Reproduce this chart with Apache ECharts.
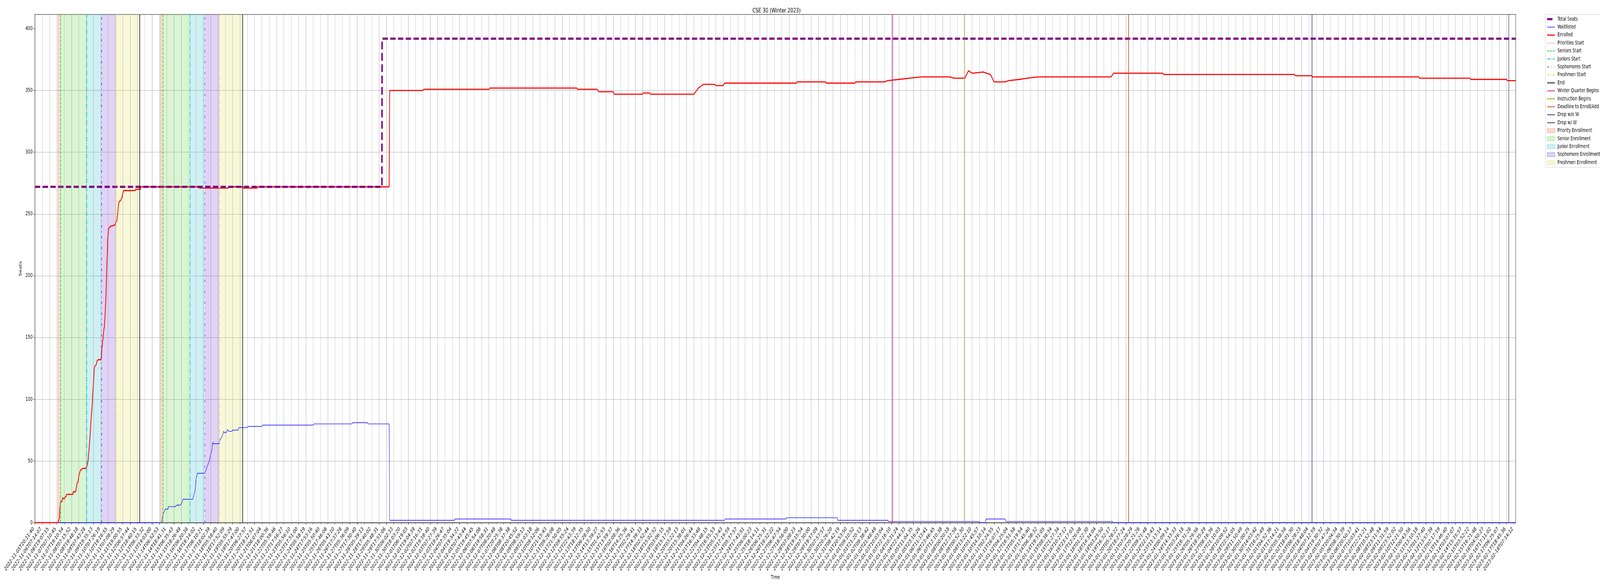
<!DOCTYPE html>
<html>
<head>
<meta charset="utf-8">
<script src="https://cdn.jsdelivr.net/npm/echarts@6/dist/echarts.min.js"></script>
<style>
  html, body { margin: 0; padding: 0; background: #fff; overflow: hidden; }
  #chart { width: 6000px; height: 1500px; transform-origin: 0 0; }
</style>
</head>
<body>
<div id="chart"></div>
<script>
// x positions are measured in tick steps: tick i sits at tickLabels[i]
const tickLabels = [
  '2022-11-05T20:11:40','2022-11-06T07:14:07','2022-11-06T19:07:15','2022-11-07T07:10:45','2022-11-07T19:10:54','2022-11-08T07:15:52','2022-11-08T19:48:18','2022-11-09T07:43:28','2022-11-09T19:35:13','2022-11-10T07:26:19',
  '2022-11-10T19:16:55','2022-11-11T07:08:29','2022-11-11T19:00:55','2022-11-12T06:57:44','2022-11-12T18:40:15','2022-11-13T06:33:32','2022-11-13T19:03:00','2022-11-14T06:52:53','2022-11-14T18:41:31','2022-11-15T06:35:43',
  '2022-11-15T18:26:49','2022-11-16T06:20:38','2022-11-16T18:14:02','2022-11-17T06:10:21','2022-11-17T18:02:39','2022-11-18T05:58:40','2022-11-18T17:52:09','2022-11-19T05:55:29','2022-11-19T17:47:00','2022-11-20T06:27:57',
  '2022-11-20T18:12:51','2022-11-21T06:07:04','2022-11-21T18:00:36','2022-11-22T05:59:46','2022-11-22T17:56:27','2022-11-23T05:56:10','2022-11-23T17:51:00','2022-11-24T05:58:19','2022-11-24T17:53:16','2022-11-25T05:50:40',
  '2022-11-25T17:46:08','2022-11-26T05:43:10','2022-11-26T17:37:28','2022-11-27T05:36:09','2022-11-27T17:30:40','2022-11-28T05:39:13','2022-11-28T17:40:02','2022-11-29T05:48:31','2022-11-29T17:51:06','2022-11-30T06:02:33',
  '2022-11-30T18:03:20','2022-12-01T06:19:03','2022-12-01T19:04:39','2022-12-02T07:16:31','2022-12-02T19:18:40','2022-12-03T07:27:39','2022-12-03T19:26:47','2022-12-04T07:35:04','2022-12-04T19:34:22','2022-12-05T07:43:44',
  '2022-12-05T19:45:45','2022-12-06T07:54:08','2022-12-06T19:58:31','2022-12-07T08:20:48','2022-12-07T20:25:38','2022-12-08T08:37:38','2022-12-08T20:45:52','2022-12-09T08:59:13','2022-12-09T21:03:18','2022-12-10T09:12:06',
  '2022-12-10T21:15:43','2022-12-11T09:28:08','2022-12-11T21:50:05','2022-12-12T09:55:24','2022-12-12T22:43:39','2022-12-13T18:12:35','2022-12-13T06:28:50','2022-12-14T13:39:27','2022-12-15T01:42:53','2022-12-15T13:59:37',
  '2022-12-16T02:08:36','2022-12-16T14:25:36','2022-12-17T02:29:41','2022-12-17T14:39:33','2022-12-18T02:52:44','2022-12-18T15:02:52','2022-12-19T03:06:15','2022-12-19T15:17:59','2022-12-20T03:22:13','2022-12-20T15:38:01',
  '2022-12-21T04:26:44','2022-12-21T16:33:48','2022-12-22T04:48:15','2022-12-22T16:55:53','2022-12-23T05:13:43','2022-12-23T17:19:59','2022-12-24T05:37:57','2022-12-24T17:43:51','2022-12-25T06:00:23','2022-12-25T18:14:11',
  '2022-12-26T06:25:31','2022-12-26T18:32:22','2022-12-27T06:47:54','2022-12-27T18:56:00','2022-12-28T07:08:23','2022-12-28T19:15:54','2022-12-29T07:30:00','2022-12-29T19:37:09','2022-12-30T07:57:57','2022-12-30T20:26:20',
  '2022-12-31T08:42:19','2022-12-31T20:53:50','2023-01-01T09:10:52','2023-01-01T21:20:13','2023-01-02T09:38:42','2023-01-02T21:48:49','2023-01-03T10:03:04','2023-01-03T22:16:10','2023-01-04T10:31:24','2023-01-04T22:44:33',
  '2023-01-05T11:04:35','2023-01-05T23:16:26','2023-01-06T11:33:41','2023-01-06T23:46:45','2023-01-07T12:10:38','2023-01-08T00:20:18','2023-01-08T12:37:58','2023-01-09T00:52:30','2023-01-09T13:22:10','2023-01-10T01:45:57',
  '2023-01-10T14:10:14','2023-01-11T02:24:55','2023-01-11T16:07:17','2023-01-12T04:25:04','2023-01-12T16:51:58','2023-01-13T05:19:54','2023-01-13T17:45:40','2023-01-14T06:38:32','2023-01-14T19:31:05','2023-01-15T08:38:34',
  '2023-01-15T21:27:34','2023-01-16T10:27:12','2023-01-16T23:17:03','2023-01-17T12:26:08','2023-01-18T01:22:30','2023-01-18T14:34:04','2023-01-19T03:25:50','2023-01-19T16:32:17','2023-01-20T05:28:22','2023-01-20T18:27:24',
  '2023-01-21T07:28:29','2023-01-21T20:21:28','2023-01-22T09:21:48','2023-01-22T22:13:43','2023-01-23T11:13:14','2023-01-24T00:09:14','2023-01-24T14:33:33','2023-01-25T03:26:18','2023-01-25T16:31:28','2023-01-26T05:29:56',
  '2023-01-26T18:35:29','2023-01-27T08:16:36','2023-01-27T21:10:03','2023-01-28T10:09:52','2023-01-28T22:54:05','2023-01-29T11:50:49','2023-01-30T01:00:25','2023-01-30T14:03:42','2023-01-31T16:25:49','2023-02-01T04:52:36',
  '2023-02-01T17:14:21','2023-02-02T05:38:58','2023-02-02T18:01:30','2023-02-03T06:28:23','2023-02-03T18:48:04','2023-02-04T07:12:59','2023-02-04T19:30:32','2023-02-05T07:47:26','2023-02-05T20:04:34','2023-02-06T08:30:39',
  '2023-02-06T20:50:17','2023-02-07T10:03:41','2023-02-07T22:21:21','2023-02-08T10:52:48','2023-02-08T23:11:54','2023-02-09T11:31:59','2023-02-09T23:52:02','2023-02-10T12:21:50','2023-02-11T00:43:56','2023-02-11T13:10:18',
  '2023-02-12T01:27:40','2023-02-12T13:57:39','2023-02-13T02:17:19','2023-02-13T14:46:40','2023-02-14T03:07:07','2023-02-14T15:35:57','2023-02-15T03:52:22','2023-02-15T16:21:48','2023-02-16T04:50:27','2023-02-16T17:11:02',
  '2023-02-17T06:25:07','2023-02-17T18:45:36','2023-02-18T07:14:12'
];
const xEnd = 202.25;
const yTicks = [0, 50, 100, 150, 200, 250, 300, 350, 400];

// [tick position, seats]
const totalSeats = [[0, 272], [47.39, 272], [47.42, 392], [xEnd, 392]];

const waitlisted = [
  [0, 0], [17.22, 0], [17.32, 1], [17.41, 4], [17.51, 7], [17.64, 9], [17.79, 11], [18.17, 11], [18.22, 13],
  [19.20, 13], [19.26, 14], [19.48, 14], [19.54, 15], [19.61, 14], [19.80, 14], [19.86, 15], [19.99, 15], [20.05, 16],
  [20.23, 19], [21.55, 19], [21.68, 22], [21.83, 25], [21.93, 30], [22.02, 36], [22.12, 38], [22.21, 40], [23.15, 40],
  [23.24, 41], [23.38, 43], [23.49, 45], [23.62, 47], [23.75, 49], [23.90, 52], [24.03, 56], [24.15, 58], [24.24, 62],
  [24.28, 65], [24.39, 64], [24.47, 64], [25.18, 64], [25.26, 67], [25.37, 68], [25.50, 69], [25.60, 71], [25.69, 72],
  [25.78, 74], [25.88, 73], [26.16, 73], [26.25, 75], [26.39, 75], [26.44, 74], [26.91, 74], [26.97, 75], [27.76, 75],
  [27.85, 77], [29.0, 77], [29.1, 78], [31.0, 78], [31.1, 79], [38.0, 79], [38.1, 80], [43.3, 80], [43.4, 81],
  [45.4, 81], [45.5, 80], [48.38, 80], [48.45, 2], [57.3, 2], [57.35, 3], [65.0, 3], [65.05, 2], [94.2, 2],
  [94.25, 3], [102.6, 3], [102.65, 4], [109.6, 4], [109.65, 2], [116.5, 2], [116.55, 1], [129.0, 1], [129.1, 0],
  [129.8, 0], [129.9, 3], [132.5, 3], [132.6, 1], [147.2, 1], [147.3, 0], [xEnd, 0]
];

const enrolled = [
  [0, 0], [3.13, 0], [3.25, 2], [3.34, 4], [3.40, 10], [3.44, 13], [3.49, 16], [3.59, 17], [3.68, 17], [3.77, 20],
  [3.87, 20], [3.96, 19], [4.15, 21], [4.24, 21], [4.34, 23], [5.19, 23], [5.22, 25], [5.56, 25], [5.62, 27],
  [5.75, 32], [5.88, 33], [5.99, 38], [6.13, 41], [6.26, 43], [6.41, 43], [6.50, 44], [6.97, 44], [7.03, 45],
  [7.12, 46], [7.25, 50], [7.39, 59], [7.54, 71], [7.63, 80], [7.72, 88], [7.82, 95], [7.91, 106], [8.01, 114],
  [8.10, 125], [8.20, 127], [8.38, 128], [8.48, 131], [8.63, 132], [9.04, 132], [9.10, 137], [9.23, 147], [9.32, 150],
  [9.42, 157], [9.47, 158], [9.57, 167], [9.70, 183], [9.79, 202], [9.95, 230], [10.05, 238], [10.3, 240], [10.9, 241],
  [11.2, 245], [11.35, 253], [11.39, 257], [11.51, 260], [11.70, 261], [11.87, 263], [12.02, 267], [12.12, 269],
  [13.71, 269], [13.75, 270], [14.38, 270], [14.48, 272], [22.43, 272], [22.45, 271], [26.40, 271], [26.42, 272],
  [28.39, 272], [28.41, 271], [30.37, 271], [30.39, 272], [48.38, 272], [48.45, 350], [53, 350], [53.1, 351], [62, 351],
  [62.1, 352], [74, 352], [74.1, 351], [76.8, 351], [77, 349], [79, 349], [79.1, 347], [83, 347], [83.1, 348], [84, 348],
  [84.1, 347], [90, 347], [90.6, 352], [91.3, 355], [92.8, 355], [93, 354], [94, 354], [94.2, 356], [104, 356],
  [104.1, 357], [108, 357], [108.1, 356], [112, 356], [112.1, 357], [116, 357], [116.5, 358], [118, 359], [119.5, 360],
  [121, 361], [125, 361], [125.5, 360], [127, 360], [127.5, 366], [128, 364], [129.5, 365], [130.5, 363], [131, 357],
  [132.5, 357], [133, 358], [134.5, 359], [135.5, 360], [137, 361], [147, 361], [147.3, 364], [154, 364], [154.2, 363],
  [172, 363], [172.2, 362], [174.4, 362], [174.5, 361], [189, 361], [189.1, 360], [196, 360], [196.1, 359], [201, 359],
  [201.1, 358], [xEnd, 358]
];

// event markers (tick positions)
const prioritiesStart = [3.12, 17.13];
const seniorsStart = [3.47, 17.47];
const juniorsStart = [7.07, 21.19];
const sophomoresStart = [9.10, 23.19];
const freshmenStart = [11.07, 25.18];
const roundEnd = [14.31, 28.38];
const winterBegins = [117.14];
const instructionBegins = [126.93];
const enrollDeadline = [149.35];
const dropNoW = [174.42];
const dropW = [201.3];

const priorityWindows = [[3.12, 3.47], [17.13, 17.47]];
const seniorWindows = [[3.47, 7.07], [17.47, 21.19]];
const juniorWindows = [[7.07, 9.10], [21.19, 23.19]];
const sophomoreWindows = [[9.10, 11.07], [23.19, 25.18]];
const freshmenWindows = [[11.07, 14.31], [25.18, 28.38]];

const FONT = 'DejaVu Sans';

// the window can be narrower than the 6000px design, squeeze the whole figure to fit
const box = document.getElementById('chart');
box.style.transform = 'scale(' + (window.innerWidth / 6000) + ',' + (window.innerHeight / 1500) + ')';

function eventSeries(name, xs, color, type) {
  const ls = { color: color, width: 2, type: type };
  return {
    name: name, type: 'line', data: [], symbol: 'none', color: color, lineStyle: ls,
    markLine: {
      silent: true, symbol: ['none', 'none'], label: { show: false }, lineStyle: ls,
      emphasis: { disabled: true },
      data: xs.map(x => ({ xAxis: x }))
    }
  };
}

function spanSeries(name, windows, rgb) {
  return {
    name: name, type: 'line', data: [], symbol: 'none',
    color: 'rgba(' + rgb + ',0.2)', lineStyle: { width: 0 },
    itemStyle: { color: 'rgba(' + rgb + ',0.2)', borderColor: 'rgba(' + rgb + ',0.3)', borderWidth: 1 },
    markArea: {
      silent: true,
      itemStyle: { color: 'rgba(' + rgb + ',0.2)' },
      emphasis: { disabled: true },
      data: windows.map(w => [{ xAxis: w[0] }, { xAxis: w[1] }])
    }
  };
}

function patchItem(name) {
  return { name: name, icon: 'rect', itemStyle: { opacity: 1 } };
}

const chart = echarts.init(box, null, { renderer: 'canvas', width: 6000, height: 1500 });

chart.setOption({
  animation: false,
  backgroundColor: '#fff',
  textStyle: { fontFamily: FONT },
  title: {
    text: 'CSE 30 (Winter 2023)',
    left: 2907, top: 14, textAlign: 'center',
    textStyle: { fontFamily: FONT, fontSize: 16.7, fontWeight: 'normal', color: '#000' }
  },
  grid: { left: 131, right: 316, top: 37, bottom: 162, show: true, borderColor: '#000', borderWidth: 1.1, backgroundColor: 'transparent' },
  legend: {
    orient: 'vertical', left: 5795, top: 37,
    padding: [5, 6, 5, 4], itemGap: 6.4, itemWidth: 29, itemHeight: 10,
    backgroundColor: 'rgba(255,255,255,0.8)', borderColor: '#cccccc', borderWidth: 1, borderRadius: 3,
    textStyle: { fontFamily: FONT, fontSize: 13.9, color: '#000', lineHeight: 14, padding: [0, 0, 0, 5] },
    // hide the marker dot that line series put in their legend icon, keep the line
    itemStyle: { opacity: 0 },
    lineStyle: { width: 'inherit' },
    data: [
      'Total Seats', 'Waitlisted', 'Enrolled', 'Priorities Start', 'Seniors Start', 'Juniors Start',
      'Sophomores Start', 'Freshmen Start', 'End', 'Winter Quarter Begins', 'Instruction Begins',
      'Deadline to Enroll/Add', 'Drop w/o W', 'Drop w/ W',
      patchItem('Priority Enrollment'),
      patchItem('Senior Enrollment'),
      patchItem('Junior Enrollment'),
      patchItem('Sophomore Enrollment'),
      patchItem('Freshmen Enrollment')
    ]
  },
  xAxis: {
    type: 'value', min: 0, max: xEnd, interval: 1,
    name: 'Time', nameLocation: 'middle', nameGap: 128,
    nameTextStyle: { fontFamily: FONT, fontSize: 13.9, color: '#000' },
    axisLine: { show: true, onZero: false, lineStyle: { color: '#000', width: 1.1 } },
    axisTick: { show: true, length: 5, lineStyle: { color: '#000', width: 1.1 }, customValues: tickLabels.map((t, i) => i) },
    axisLabel: {
      rotate: 45, margin: 9, padding: [0, 7, 0, 0],
      fontFamily: FONT, fontSize: 13.9, color: '#000',
      customValues: tickLabels.map((t, i) => i),
      formatter: v => tickLabels[Math.round(v)] || ''
    },
    splitLine: { show: true, showMinLine: false, showMaxLine: false, lineStyle: { color: '#b0b0b0', width: 1.1 } }
  },
  yAxis: {
    type: 'value', min: 0, max: 411.6, interval: 50,
    name: 'Seats', nameLocation: 'middle', nameGap: 47,
    nameTextStyle: { fontFamily: FONT, fontSize: 13.9, color: '#000' },
    axisLine: { show: true, lineStyle: { color: '#000', width: 1.1 } },
    axisTick: { show: true, length: 5, lineStyle: { color: '#000', width: 1.1 }, customValues: yTicks },
    axisLabel: { margin: 9, fontFamily: FONT, fontSize: 13.9, color: '#000', customValues: yTicks },
    splitLine: { show: true, showMinLine: false, showMaxLine: false, lineStyle: { color: '#b0b0b0', width: 1.1 } }
  },
  series: [
    spanSeries('Priority Enrollment', priorityWindows, '220,85,35'),
    spanSeries('Senior Enrollment', seniorWindows, '65,205,35'),
    spanSeries('Junior Enrollment', juniorWindows, '15,180,195'),
    spanSeries('Sophomore Enrollment', sophomoreWindows, '100,35,205'),
    spanSeries('Freshmen Enrollment', freshmenWindows, '215,220,65'),
    {
      name: 'Waitlisted', type: 'line', data: waitlisted, symbol: 'none', color: '#0000ff',
      lineStyle: { color: '#0000ff', width: 1.4 }, z: 3
    },
    {
      name: 'Enrolled', type: 'line', data: enrolled, symbol: 'none', color: '#ff0000',
      lineStyle: { color: '#ff0000', width: 2.8 }, z: 3
    },
    {
      name: 'Total Seats', type: 'line', data: totalSeats, symbol: 'none', color: '#800080',
      lineStyle: { color: '#800080', width: 5.5, type: [20, 9] }, z: 3
    },
    eventSeries('Priorities Start', prioritiesStart, '#ee6d3a', [2, 3.3]),
    eventSeries('Seniors Start', seniorsStart, '#33cc14', [7.4, 3.2]),
    eventSeries('Juniors Start', juniorsStart, '#00c5d5', [12.8, 3.2, 2, 3.2]),
    eventSeries('Sophomores Start', sophomoresStart, '#6a2fd6', [6, 10, 2, 10]),
    eventSeries('Freshmen Start', freshmenStart, '#e2e22b', [8, 3, 2, 3, 2, 3]),
    eventSeries('End', roundEnd, '#000000', 'solid'),
    eventSeries('Winter Quarter Begins', winterBegins, '#e0119a', 'solid'),
    eventSeries('Instruction Begins', instructionBegins, '#8aa818', 'solid'),
    eventSeries('Deadline to Enroll/Add', enrollDeadline, '#d2461e', 'solid'),
    eventSeries('Drop w/o W', dropNoW, '#2c2c8c', 'solid'),
    eventSeries('Drop w/ W', dropW, '#2b3a5a', 'solid')
  ]
});
</script>
</body>
</html>
